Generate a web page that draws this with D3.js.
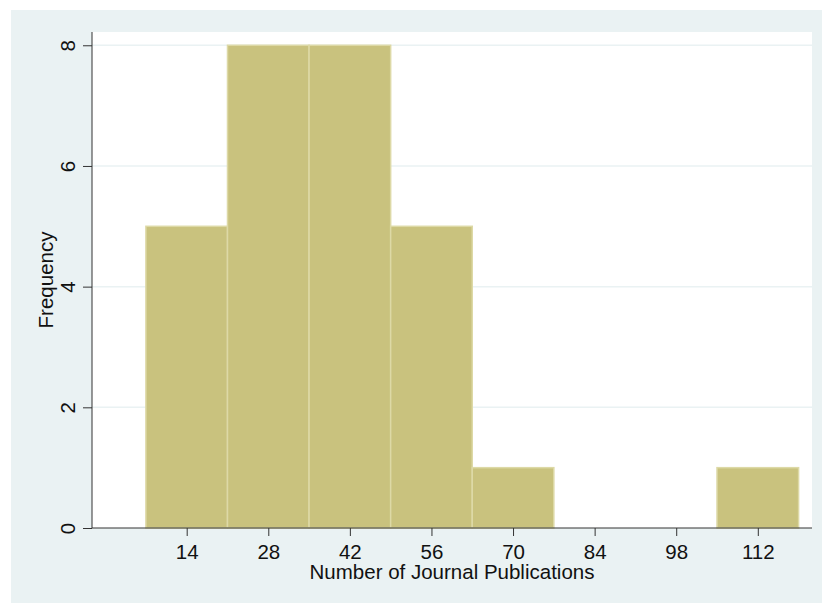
<!DOCTYPE html>
<html>
<head>
<meta charset="utf-8">
<script src="https://cdn.jsdelivr.net/npm/d3@7"></script>
<style>
  body { margin: 0; background: #ffffff; }
  svg text { font-family: "Liberation Sans", Arial, sans-serif; fill: #111; }
</style>
</head>
<body>
<div id="chart"></div>
<script>
// histogram bins (left edge of each bin) and their counts
var binStarts = [7, 21, 35, 49, 63, 77, 91, 105];
var binWidth = 14;
var counts = [5, 8, 8, 5, 1, 0, 0, 1];
var xTicks = [14, 28, 42, 56, 70, 84, 98, 112];
var yTicks = [0, 2, 4, 6, 8];
var xTitle = "Number of Journal Publications";
var yTitle = "Frequency";

var W = 822, H = 603;
var plot = { left: 92, right: 812, top: 32, bottom: 528 };
var fs = 20.5;

var svg = d3.select("#chart").append("svg")
    .attr("width", W)
    .attr("height", H);

// outer graph region
svg.append("rect")
    .attr("x", 11).attr("y", 10)
    .attr("width", W - 11).attr("height", H - 10)
    .attr("fill", "#eaf2f3");

// plot region
svg.append("rect")
    .attr("x", plot.left).attr("y", plot.top)
    .attr("width", plot.right - plot.left)
    .attr("height", plot.bottom - plot.top)
    .attr("fill", "#ffffff");

var x = d3.scaleLinear()
    .domain([-2.25, 121.3])
    .range([plot.left, plot.right]);

var y = d3.scaleLinear()
    .domain([0, 8.22])
    .range([plot.bottom, plot.top]);

// grid lines
svg.append("g").selectAll("line")
    .data(yTicks.filter(function(v) { return v > 0; }))
    .enter().append("line")
    .attr("x1", plot.left).attr("x2", plot.right)
    .attr("y1", function(v) { return y(v); })
    .attr("y2", function(v) { return y(v); })
    .attr("stroke", "#eaf2f3")
    .attr("stroke-width", 1.5);

// bars
svg.append("g").selectAll("rect")
    .data(d3.zip(binStarts, counts).filter(function(v) { return v[1] > 0; }))
    .enter().append("rect")
    .attr("x", function(v) { return x(v[0]); })
    .attr("y", function(v) { return y(v[1]); })
    .attr("width", function(v) { return x(v[0] + binWidth) - x(v[0]); })
    .attr("height", function(v) { return y(0) - y(v[1]); })
    .attr("fill", "#c9c27e")
    .attr("stroke", "#ddd9a6")
    .attr("stroke-width", 1.5);

// x axis
var xAxis = d3.axisBottom(x)
    .tickValues(xTicks)
    .tickSize(8)
    .tickPadding(6)
    .tickSizeOuter(0);

var gx = svg.append("g")
    .attr("transform", "translate(0," + plot.bottom + ")")
    .call(xAxis);
gx.select(".domain")
    .attr("d", "M" + plot.left + ",0H" + plot.right)
    .attr("stroke", "#333");
gx.selectAll(".tick line").attr("stroke", "#333");
gx.selectAll(".tick text")
    .attr("y", 31).attr("dy", null)
    .attr("font-size", fs)
    .attr("fill", "#111")
    .attr("font-family", "Liberation Sans, Arial, sans-serif");

// y axis
var yAxis = d3.axisLeft(y)
    .tickValues(yTicks)
    .tickSize(9)
    .tickSizeOuter(0);

var gy = svg.append("g")
    .attr("transform", "translate(" + plot.left + ",0)")
    .call(yAxis);
gy.select(".domain")
    .attr("d", "M0," + plot.top + "V" + plot.bottom)
    .attr("stroke", "#333");
gy.selectAll(".tick line").attr("stroke", "#333");
gy.selectAll(".tick text")
    .attr("x", null).attr("dy", null)
    .attr("text-anchor", "middle")
    .attr("font-size", fs)
    .attr("fill", "#111")
    .attr("font-family", "Liberation Sans, Arial, sans-serif")
    .attr("transform", "translate(-17,0) rotate(-90)");

// axis titles
svg.append("text")
    .attr("x", (plot.left + plot.right) / 2)
    .attr("y", 579)
    .attr("text-anchor", "middle")
    .attr("font-size", fs)
    .text(xTitle);

svg.append("text")
    .attr("transform", "translate(52.5," + (plot.top + plot.bottom) / 2 + ") rotate(-90)")
    .attr("text-anchor", "middle")
    .attr("font-size", fs)
    .text(yTitle);
</script>
</body>
</html>
